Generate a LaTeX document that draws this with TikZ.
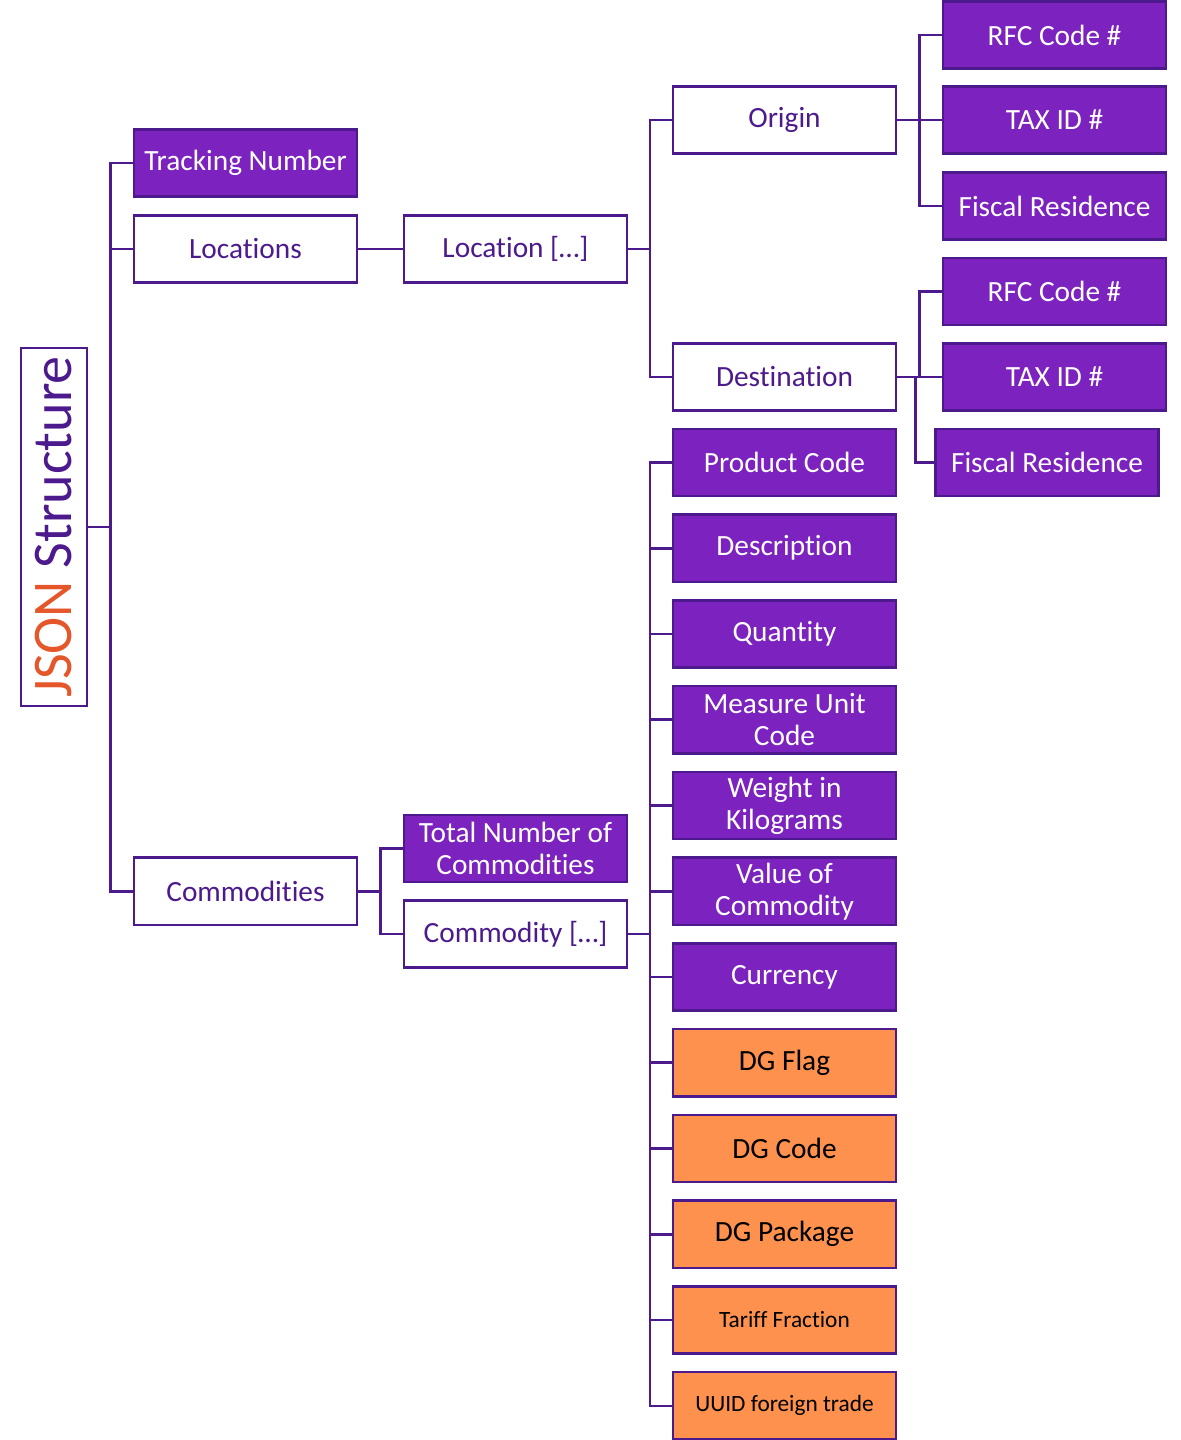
\documentclass[tikz,border=0pt]{standalone}
\usepackage{fontspec}
\setmainfont{Carlito}[Ligatures=NoCommon]
\usetikzlibrary{calc}
\definecolor{jsonline}{HTML}{4C1A8C}
\definecolor{jsonfill}{HTML}{7C22BE}
\definecolor{jsondg}{HTML}{FD914D}
\definecolor{jsonorange}{HTML}{E5572A}

\begin{document}
\begin{tikzpicture}
    [x=0.75pt,y=-0.75pt,
     link/.style={draw=jsonline,line width=1.9pt,
       to path={-| ($(\tikztostart)!0.5!(\tikztotarget)$) |- (\tikztotarget)}}]
    \tikzstyle{field}=[draw=jsonline, line width=1.9pt, minimum width=167.5pt, minimum height=50.5pt,
      inner sep=1pt, align=center, font=\fontsize{22}{24}\selectfont]
    \tikzstyle{obj}=[field, fill=white, text=jsonline]
    \tikzstyle{val}=[field, fill=jsonfill, text=white]
    \tikzstyle{dg}=[field, fill=jsondg, text=black]
    \tikzstyle{small}=[font=\fontsize{17.5}{20}\selectfont]
    \useasboundingbox (0,0) rectangle (1181,1440);
    % root
    \node[draw=jsonline, line width=1.6pt, minimum width=50pt, minimum height=269pt, inner sep=0pt]
      (JSON) at (54,527) {\rotatebox{90}{\fontsize{42}{44}\selectfont\textcolor{jsonorange}{JSON} \textcolor{jsonline}{Structure}}};
    % first level
    \node[val] (TRACK) at (245.5,163) {Tracking Number};
    \node[obj] (LOCS) at (245.5,249) {Locations};
    \node[obj] (COMMS) at (245.5,891.25) {Commodities};
    % locations
    \node[obj] (LOC) at (515.5,249) {Location [\dots]};
    \node[obj] (ORIG) at (784.5,120) {Origin};
    \node[obj] (DEST) at (784.5,377) {Destination};
    \node[val] (ORIGrfc) at (1054.5,35) {RFC Code \#};
    \node[val] (ORIGtax) at (1054.5,120) {TAX ID \#};
    \node[val] (ORIGfis) at (1054.5,206) {Fiscal Residence};
    \node[val] (DESTrfc) at (1054.5,291.5) {RFC Code \#};
    \node[val] (DESTtax) at (1054.5,377) {TAX ID \#};
    \node[val] (DESTfis) at (1047,462.5) {Fiscal Residence};
    % commodities
    \node[val] (TOTAL) at (515.5,848.5) {Total Number of\\Commodities};
    \node[obj] (COMM) at (515.5,934) {Commodity [\dots]};
    \node[val] (COMMa) at (784.5,462.5) {Product Code};
    \node[val] (COMMb) at (784.5,548.25) {Description};
    \node[val] (COMMc) at (784.5,634) {Quantity};
    \node[val] (COMMd) at (784.5,719.75) {Measure Unit\\Code};
    \node[val] (COMMe) at (784.5,805.5) {Weight in\\Kilograms};
    \node[val] (COMMf) at (784.5,891.25) {Value of\\Commodity};
    \node[val] (COMMg) at (784.5,977) {Currency};
    \node[dg] (COMMh) at (784.5,1062.75) {DG Flag};
    \node[dg] (COMMi) at (784.5,1148.5) {DG Code};
    \node[dg] (COMMj) at (784.5,1234.25) {DG Package};
    \node[dg,small] (COMMk) at (784.5,1320) {Tariff Fraction};
    \node[dg,small] (COMMl) at (784.5,1405.75) {UUID foreign trade};
    % connectors
    \draw[link] (JSON.east) to (TRACK.west);
    \draw[link] (JSON.east) to (LOCS.west);
    \draw[link] (JSON.east) to (COMMS.west);
    \draw[link] (LOCS.east) to (LOC.west);
    \draw[link] (LOC.east) to (ORIG.west);
    \draw[link] (LOC.east) to (DEST.west);
    \draw[link] (ORIG.east) to (ORIGrfc.west);
    \draw[link] (ORIG.east) to (ORIGtax.west);
    \draw[link] (ORIG.east) to (ORIGfis.west);
    \draw[link] (DEST.east) to (DESTrfc.west);
    \draw[link] (DEST.east) to (DESTtax.west);
    \draw[link] (DEST.east) to (DESTfis.west);
    \draw[link] (COMMS.east) to (TOTAL.west);
    \draw[link] (COMMS.east) to (COMM.west);
    \foreach \c in {a,b,c,d,e,f,g,h,i,j,k,l}
      \draw[link] (COMM.east) to (COMM\c.west);
\end{tikzpicture}
\end{document}
